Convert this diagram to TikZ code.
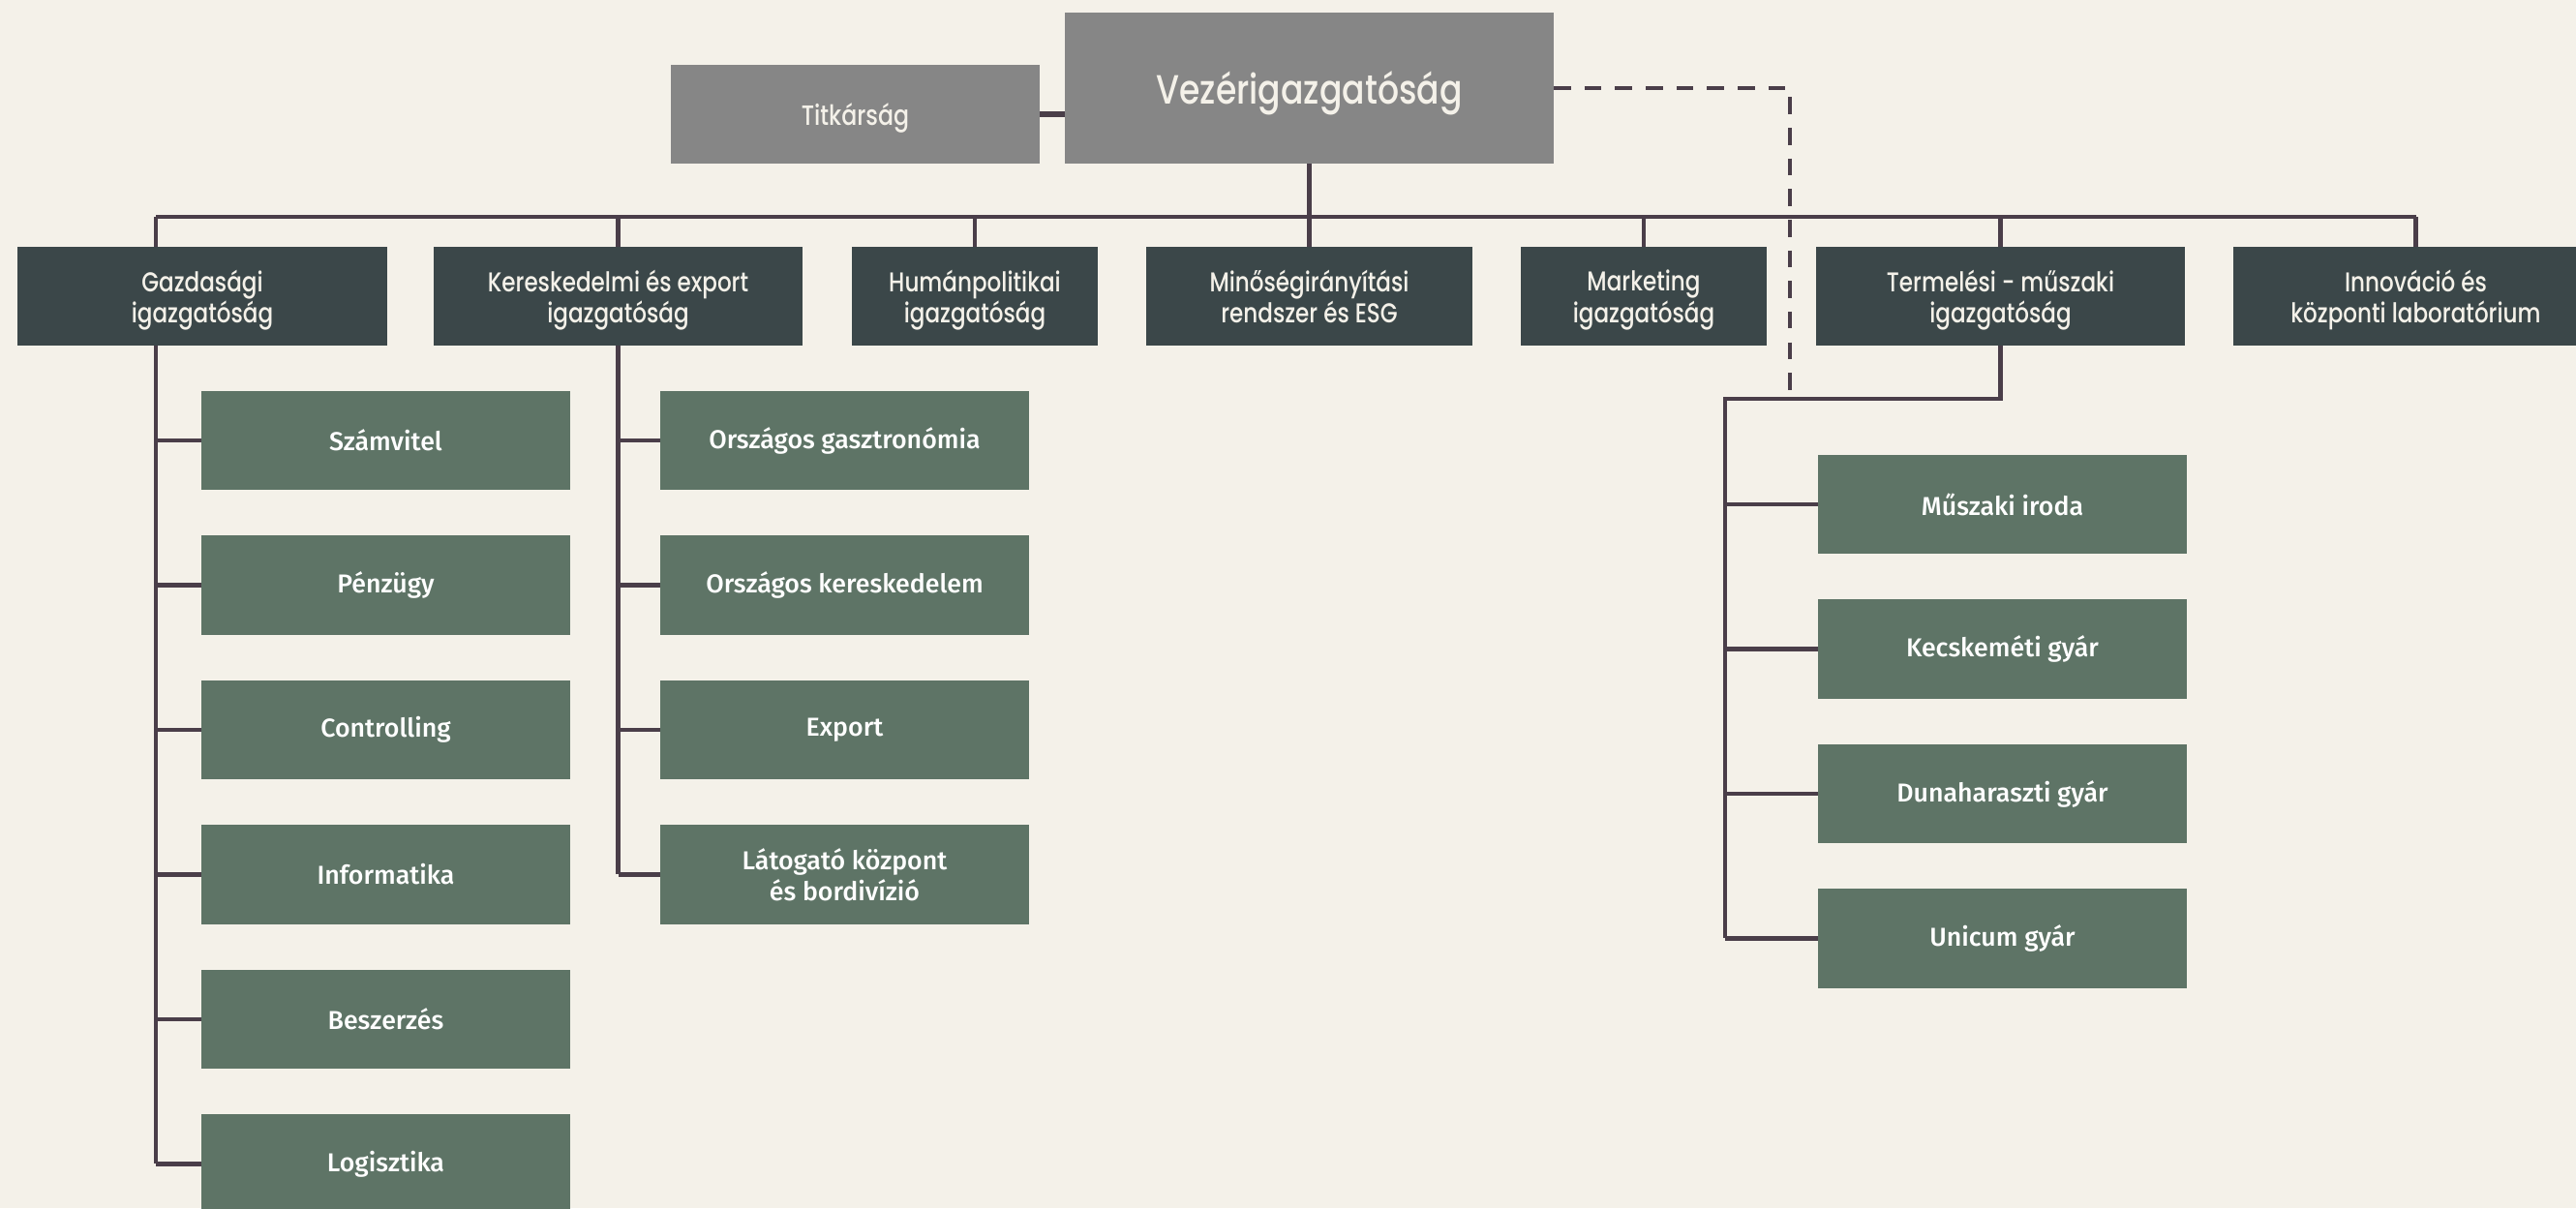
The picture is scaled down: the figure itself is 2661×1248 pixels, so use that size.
\documentclass[tikz,border=0pt]{standalone}
\usepackage{fontspec}
\newfontfamily\fejfont{Poppins}[UprightFont=* Medium, FakeStretch=0.82]
\newfontfamily\alfont{Fira Sans}[UprightFont=* Medium]
\usepackage{tikz}
\usetikzlibrary{positioning}
\definecolor{hatter}{HTML}{F4F1E9}
\definecolor{szurke}{HTML}{868686}
\definecolor{sotet}{HTML}{3B4749}
\definecolor{zold}{HTML}{5E7466}
\definecolor{vonalszin}{HTML}{4A3E49}
\definecolor{krem}{HTML}{F4F1E9}
\tikzstyle{vezer} = [rectangle, fill=szurke, text=krem, inner sep=0pt, outer sep=0pt, text depth=0pt]
\tikzstyle{igazg} = [rectangle, fill=sotet, text=krem, minimum height=1.02cm, inner sep=0pt, outer sep=0pt, text depth=0pt, align=center, font=\fejfont\fontsize{8}{9.2}\selectfont]
\tikzstyle{osztaly} = [rectangle, fill=zold, text=white, minimum width=3.81cm, minimum height=1.02cm, inner sep=0pt, outer sep=0pt, align=center, font=\alfont\fontsize{7.6}{9}\selectfont]
\tikzstyle{vonal} = [line width=1.2pt, draw=vonalszin]

\begin{document}
\begin{tikzpicture}[x=0.01cm, y=-0.01cm]
	\fill[hatter] (0,0) rectangle (2661,1248);
	\useasboundingbox (0,0) rectangle (2661,1248);

	% vezetes
	\node[vezer, minimum width=5.05cm, minimum height=1.56cm, font=\fejfont\fontsize{12}{14}\selectfont] (vezer) at (1352.5,91) {Vezérigazgatóság};
	\node[vezer, minimum width=3.81cm, minimum height=1.02cm, font=\fejfont\fontsize{8.2}{9}\selectfont] (titkar) at (883.5,118) {Titkárság};

	% igazgatosagok
	\node[igazg, minimum width=3.81cm] (gazd) at (209,306) {Gazdasági\\igazgatóság};
	\node[igazg, minimum width=3.81cm] (ker) at (638.5,306) {Kereskedelmi és export\\igazgatóság};
	\node[igazg, minimum width=2.54cm] (human) at (1007,306) {Humánpolitikai\\igazgatóság};
	\node[igazg, minimum width=3.37cm] (minoseg) at (1352.5,306) {Minőségirányítási\\rendszer és ESG};
	\node[igazg, minimum width=2.54cm] (mark) at (1698,306) {Marketing\\igazgatóság};
	\node[igazg, minimum width=3.81cm] (term) at (2066.5,306) {Termelési - műszaki\\igazgatóság};
	\node[igazg, minimum width=3.77cm] (innov) at (2495.5,306) {Innováció és\\központi laboratórium};

	% gazdasagi osztalyok
	\node[osztaly] (szamv) at (398.5,455) {Számvitel};
	\node[osztaly, below=0.474cm of szamv] (penz) {Pénzügy};
	\node[osztaly, below=0.474cm of penz] (contr) {Controlling};
	\node[osztaly, below=0.474cm of contr] (info) {Informatika};
	\node[osztaly, below=0.474cm of info] (besz) {Beszerzés};
	\node[osztaly, below=0.474cm of besz] (logiszt) {Logisztika};

	% kereskedelmi osztalyok
	\node[osztaly] (gasztro) at (872.5,455) {Országos gasztronómia};
	\node[osztaly, below=0.474cm of gasztro] (orszker) {Országos kereskedelem};
	\node[osztaly, below=0.474cm of orszker] (export) {Export};
	\node[osztaly, below=0.474cm of export] (latog) {Látogató központ\\és bordivízió};

	% termelesi egysegek
	\node[osztaly] (muszaki) at (2068.5,521) {Műszaki iroda};
	\node[osztaly, below=0.474cm of muszaki] (kecsk) {Kecskeméti gyár};
	\node[osztaly, below=0.474cm of kecsk] (duna) {Dunaharaszti gyár};
	\node[osztaly, below=0.474cm of duna] (unicum) {Unicum gyár};

	% vonalak
	\coordinate (gbal) at (161,224);
	\coordinate (tbal) at (1782,412);
	\coordinate (szagg) at (1849,412);
	\draw[vonal, line width=1.5pt] (titkar.east) -- (vezer.west |- titkar.east);
	\draw[vonal] (vezer.south) -- (minoseg.north);
	\draw[vonal] (gbal) -- (gbal -| innov.north);
	\draw[vonal] (gbal) -- (gbal |- gazd.north);
	\foreach \n in {ker,human,mark,term,innov}
		\draw[vonal] (\n.north) -- (\n.north |- gbal);
	\draw[vonal] (gbal |- gazd.south) -- (gbal |- logiszt.west);
	\foreach \n in {szamv,penz,contr,info,besz,logiszt}
		\draw[vonal, line width=1.4pt] (\n.west) -- (\n.west -| gbal);
	\draw[vonal] (ker.south) -- (ker.south |- latog.west);
	\foreach \n in {gasztro,orszker,export,latog}
		\draw[vonal, line width=1.4pt] (\n.west) -- (\n.west -| ker.south);
	\draw[vonal] (term.south) |- (tbal) -- (tbal |- unicum.west);
	\foreach \n in {muszaki,kecsk,duna,unicum}
		\draw[vonal, line width=1.4pt] (\n.west) -- (\n.west -| tbal);
	\draw[vonal, dash pattern=on 5pt off 4pt] (vezer.east) -| (szagg);
\end{tikzpicture}
\end{document}
